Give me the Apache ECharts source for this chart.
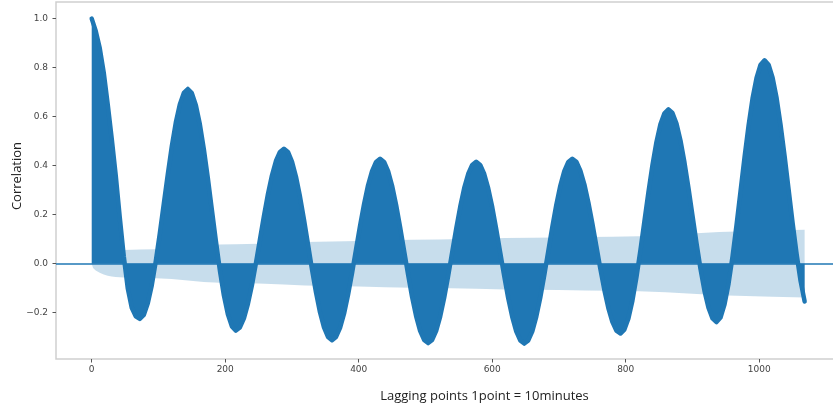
<!DOCTYPE html>
<html><head><meta charset="utf-8">
<script src="https://cdn.jsdelivr.net/npm/echarts@6/dist/echarts.min.js"></script>
<style>html,body{margin:0;padding:0;background:#fff}#c{width:833px;height:410px}</style>
</head><body><div id="c"></div>
<script>
const acfLags = [
  0, 6, 12, 18, 24, 30, 36, 42, 48, 54, 60, 66, 72,
  78, 84, 90, 96, 102, 108, 114, 120, 126, 132, 138, 144,
  150, 156, 162, 168, 174, 180, 186, 192, 198, 204, 210, 216,
  222, 228, 234, 240, 246, 252, 258, 264, 270, 276, 282, 288,
  294, 300, 306, 312, 318, 324, 330, 336, 342, 348, 354, 360,
  366, 372, 378, 384, 390, 396, 402, 408, 414, 420, 426, 432,
  438, 444, 450, 456, 462, 468, 474, 480, 486, 492, 498, 504,
  510, 516, 522, 528, 534, 540, 546, 552, 558, 564, 570, 576,
  582, 588, 594, 600, 606, 612, 618, 624, 630, 636, 642, 648,
  654, 660, 666, 672, 678, 684, 690, 696, 702, 708, 714, 720,
  726, 732, 738, 744, 750, 756, 762, 768, 774, 780, 786, 792,
  798, 804, 810, 816, 822, 828, 834, 840, 846, 852, 858, 864,
  870, 876, 882, 888, 894, 900, 906, 912, 918, 924, 930, 936,
  942, 948, 954, 960, 966, 972, 978, 984, 990, 996, 1002, 1008,
  1014, 1020, 1026, 1032, 1038, 1044, 1050, 1056, 1062, 1068
];
// Correlation values at those lags
const acfValues = [
  1.0, 0.95, 0.88, 0.78, 0.65, 0.51, 0.36, 0.19, 0.03, -0.10, -0.18, -0.215, -0.225,
  -0.209, -0.162, -0.088, 0.010, 0.123, 0.244, 0.365, 0.479, 0.576, 0.650, 0.697, 0.713,
  0.696, 0.647, 0.569, 0.467, 0.348, 0.220, 0.092, -0.027, -0.129, -0.207, -0.256, -0.273,
  -0.260, -0.223, -0.164, -0.088, 0.002, 0.098, 0.194, 0.284, 0.360, 0.419, 0.456, 0.469,
  0.456, 0.417, 0.355, 0.274, 0.180, 0.079, -0.023, -0.117, -0.198, -0.260, -0.299, -0.312,
  -0.299, -0.262, -0.204, -0.127, -0.038, 0.058, 0.154, 0.243, 0.320, 0.378, 0.415, 0.428,
  0.415, 0.378, 0.318, 0.240, 0.149, 0.052, -0.045, -0.136, -0.214, -0.274, -0.311, -0.324,
  -0.311, -0.274, -0.216, -0.139, -0.050, 0.046, 0.142, 0.231, 0.308, 0.366, 0.403, 0.416,
  0.403, 0.366, 0.307, 0.231, 0.141, 0.045, -0.051, -0.141, -0.217, -0.276, -0.313, -0.326,
  -0.313, -0.276, -0.216, -0.138, -0.047, 0.051, 0.149, 0.240, 0.318, 0.378, 0.415, 0.428,
  0.416, 0.380, 0.324, 0.250, 0.164, 0.072, -0.021, -0.107, -0.181, -0.237, -0.273, -0.285,
  -0.269, -0.224, -0.151, -0.056, 0.054, 0.173, 0.291, 0.401, 0.496, 0.569, 0.614, 0.630,
  0.615, 0.572, 0.503, 0.413, 0.308, 0.196, 0.084, -0.021, -0.111, -0.180, -0.223, -0.238,
  -0.220, -0.166, -0.082, 0.029, 0.158, 0.296, 0.434, 0.563, 0.674, 0.758, 0.812, 0.830,
  0.812, 0.759, 0.676, 0.566, 0.439, 0.303, 0.166, 0.039, -0.071, -0.154
];
// Confidence band (half width, symmetric around 0)
const bandLags = [0, 2, 6, 12, 18, 24, 30, 36, 48, 72, 96, 120, 144, 168, 192, 216, 250, 288, 320, 360,
  400, 440, 480, 520, 576, 620, 660, 700, 740, 780, 820, 860, 900, 940, 980, 1020, 1068];
const bandHalfWidth = [0, 0.018, 0.028, 0.037, 0.044, 0.049, 0.052, 0.054, 0.056, 0.058, 0.059, 0.063, 0.069,
  0.075, 0.078, 0.079, 0.081, 0.085, 0.089, 0.091, 0.093, 0.096, 0.098, 0.099, 0.102, 0.105, 0.106, 0.107,
  0.109, 0.110, 0.112, 0.117, 0.123, 0.129, 0.132, 0.135, 0.138];

const xTicks = [0, 200, 400, 600, 800, 1000];
const yTicks = [-0.2, 0.0, 0.2, 0.4, 0.6, 0.8, 1.0];
const xTitle = 'Lagging points 1point = 10minutes';
const yTitle = 'Correlation';

const C0 = '#1f77b4';
const BAND = 'rgba(31,119,180,0.25)';
const pairs = (xs, ys) => xs.map((x, i) => [x, ys[i]]);

const chart = echarts.init(document.getElementById('c'), null, {renderer: 'canvas'});
chart.setOption({
  animation: false,
  grid: {left: 56, top: 2, right: -8, bottom: 51, show: true, containLabel: false,
         outerBoundsMode: 'none',
         borderColor: '#cfcfcf', borderWidth: 1.5, backgroundColor: 'transparent'},
  xAxis: {
    type: 'value', min: -53.5, max: 1122.5,
    axisLine: {show: false, onZero: false}, splitLine: {show: false},
    axisTick: {show: true, length: 3.5, lineStyle: {color: '#555', width: 1}, customValues: xTicks},
    axisLabel: {customValues: xTicks, color: '#444', fontSize: 9, fontFamily: 'DejaVu Sans', margin: 6,
      formatter: v => String(v)},
    name: xTitle, nameLocation: 'middle', nameGap: 31,
    nameTextStyle: {fontFamily: 'Open Sans', fontSize: 13, color: '#222', padding: [0, 0, 0, 72]}
  },
  yAxis: {
    type: 'value', min: -0.389, max: 1.068,
    axisLine: {show: false, onZero: false}, splitLine: {show: false},
    axisTick: {show: true, length: 3.5, lineStyle: {color: '#555', width: 1}, customValues: yTicks},
    axisLabel: {customValues: yTicks, color: '#444', fontSize: 9, fontFamily: 'DejaVu Sans', margin: 8,
      formatter: v => (v < -1e-9 ? '\u2212' : '') + Math.abs(v).toFixed(1)},
    name: yTitle, nameLocation: 'middle', nameGap: 32, nameMoveOverlap: false,
    nameTextStyle: {fontFamily: 'Open Sans', fontSize: 13, color: '#222', padding: [0, 0, 0, 9]}
  },
  series: [
    {type: 'line', data: pairs(bandLags, bandHalfWidth), showSymbol: false, silent: true,
     lineStyle: {opacity: 0}, areaStyle: {color: BAND, opacity: 1}, z: 1},
    {type: 'line', data: pairs(bandLags, bandHalfWidth.map(v => -v)), showSymbol: false, silent: true,
     lineStyle: {opacity: 0}, areaStyle: {color: BAND, opacity: 1}, z: 1},
    {type: 'line', data: pairs(acfLags, acfValues), showSymbol: false, silent: true,
     lineStyle: {width: 4.5, color: C0, cap: 'round', join: 'round'},
     areaStyle: {color: C0, opacity: 1}, z: 3,
     markLine: {silent: true, symbol: ['none', 'none'], label: {show: false},
       lineStyle: {color: C0, width: 1.5, type: 'solid'}, data: [{yAxis: 0}]}}
  ]
});
</script></body></html>
